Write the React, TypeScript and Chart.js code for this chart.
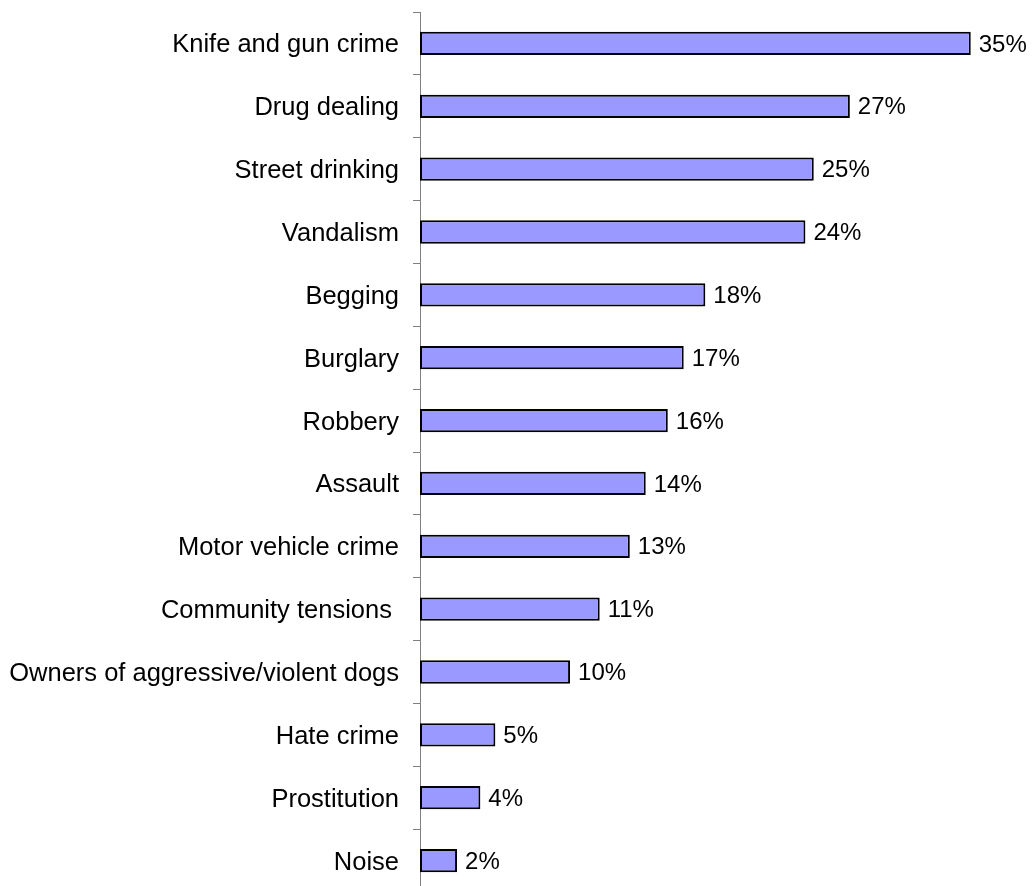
import React, { useEffect, useRef } from "react";
import { Chart, registerables } from "chart.js";

Chart.register(...registerables);

const categories: string[] = [
  "Knife and gun crime",
  "Drug dealing",
  "Street drinking",
  "Vandalism",
  "Begging",
  "Burglary",
  "Robbery",
  "Assault",
  "Motor vehicle crime",
  "Community tensions ",
  "Owners of aggressive/violent dogs",
  "Hate crime",
  "Prostitution",
  "Noise",
];

const values: number[] = [
  34.94, 27.27, 24.98, 24.45, 18.1, 16.73, 15.72, 14.32, 13.31, 11.4, 9.52, 4.78, 3.83, 2.35,
];

const valueLabels: string[] = [
  "35%", "27%", "25%", "24%", "18%", "17%", "16%", "14%", "13%", "11%", "10%", "5%", "4%", "2%",
];

const FONT = "'Liberation Sans', Arial, Helvetica, sans-serif";

const valueLabelPlugin = {
  id: "valueLabels",
  afterDatasetsDraw(chart: any) {
    const ctx = chart.ctx;
    const meta = chart.getDatasetMeta(0);
    ctx.save();
    ctx.font = `24px ${FONT}`;
    ctx.fillStyle = "#000000";
    ctx.textAlign = "left";
    ctx.textBaseline = "middle";
    meta.data.forEach((bar: any, i: number) => {
      ctx.fillText(valueLabels[i], bar.x + 8, bar.y + 1.5);
    });
    ctx.restore();
  },
};

export default function App() {
  const canvasRef = useRef<HTMLCanvasElement | null>(null);

  useEffect(() => {
    if (!canvasRef.current) return;
    const chart = new Chart(canvasRef.current, {
      type: "bar",
      data: {
        labels: categories,
        datasets: [
          {
            data: values,
            backgroundColor: "#9999FF",
            borderColor: "#000000",
            borderWidth: 2,
            borderSkipped: false,
            categoryPercentage: 1,
            barPercentage: 0.37,
          },
        ],
      },
      options: {
        indexAxis: "y",
        responsive: false,
        animation: false,
        layout: { padding: { top: 12, right: 15, bottom: 0, left: 0 } },
        plugins: {
          legend: { display: false },
          tooltip: { enabled: false },
        },
        scales: {
          x: {
            display: false,
            min: 0,
            max: 38,
          },
          y: {
            afterFit: (s: any) => {
              s.width = 420;
              s.paddingTop = 0;
              s.paddingBottom = 0;
            },
            grid: {
              display: true,
              drawOnChartArea: false,
              drawTicks: true,
              tickLength: 7,
              color: "#808080",
              offset: true,
            },
            border: { display: true, color: "#808080", width: 1 },
            ticks: {
              padding: 14,
              labelOffset: 2,
              color: "#000000",
              font: { family: FONT, size: 25.5 },
              autoSkip: false,
            },
          },
        },
      },
      plugins: [valueLabelPlugin],
    });
    return () => chart.destroy();
  }, []);

  return (
    <div
      style={{
        position: "absolute",
        left: 0,
        top: 0,
        width: 1034,
        height: 886,
        overflow: "hidden",
        background: "#ffffff",
      }}
    >
      <canvas ref={canvasRef} width={1034} height={892} />
    </div>
  );
}
